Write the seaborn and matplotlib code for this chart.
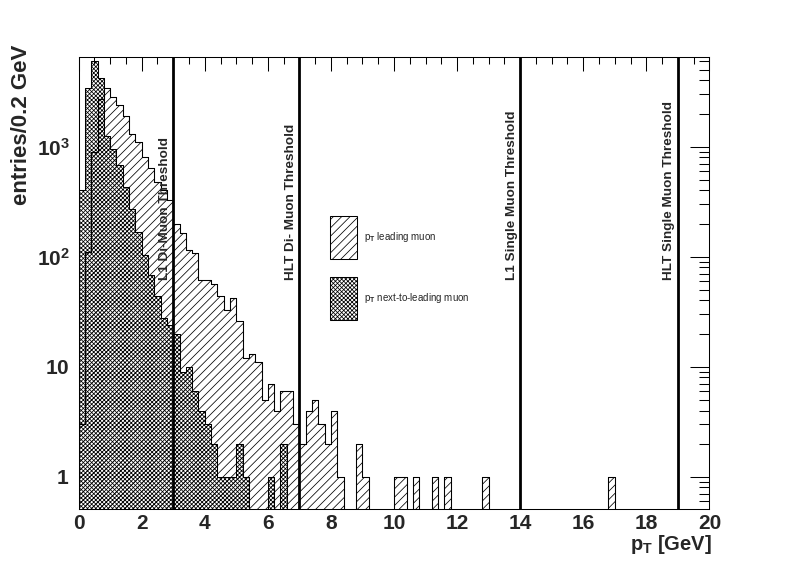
import numpy as np
import pandas as pd
import matplotlib
matplotlib.use("Agg")
import matplotlib.pyplot as plt
import seaborn as sns
from matplotlib.patches import Patch
from matplotlib.ticker import FixedLocator, FixedFormatter, MultipleLocator, NullFormatter

# ---------------- data ----------------
bin_edges = [round(0.2 * i, 1) for i in range(101)]

leading = [
    3, 111, 900, 2700, 3400, 2850, 2380, 1920, 1310, 1110,
    800, 640, 480, 400, 330, 198, 165, 115, 107, 62,
    62, 57, 44, 33, 42, 26, 12, 13, 11, 5,
    7, 4, 6, 6, 3, 2, 4, 5, 3, 2,
    4, 1, 0, 0, 2, 1, 0, 0, 0, 0,
    1, 1, 0, 1, 0, 0, 1, 0, 1, 0,
    0, 0, 0, 0, 1, 0, 0, 0, 0, 0,
    0, 0, 0, 0, 0, 0, 0, 0, 0, 0,
    0, 0, 0, 0, 1, 0, 0, 0, 0, 0,
    0, 0, 0, 0, 0, 0, 0, 0, 0, 0,
]
next_leading = [
    400, 3400, 6000, 4200, 1250, 950, 680, 430, 270, 167,
    104, 68, 44, 28, 24, 20, 9, 10, 6, 4,
    3, 2, 1, 1, 1, 2, 1, 0, 0, 0,
    1, 0, 2, 0, 0, 0, 0, 0, 0, 0,
    0, 0, 0, 0, 0, 0, 0, 0, 0, 0,
    0, 0, 0, 0, 0, 0, 0, 0, 0, 0,
    0, 0, 0, 0, 0, 0, 0, 0, 0, 0,
    0, 0, 0, 0, 0, 0, 0, 0, 0, 0,
    0, 0, 0, 0, 0, 0, 0, 0, 0, 0,
    0, 0, 0, 0, 0, 0, 0, 0, 0, 0,
]
thresholds = [3, 7, 14, 19]
threshold_labels = ["L1 Di-Muon Threshold", "HLT Di- Muon Threshold",
                    "L1 Single Muon Threshold", "HLT Single Muon Threshold"]
x_ticks = list(range(0, 21, 2))
y_ticks = [1, 10, 100, 1000]
y_tick_labels = [r"$\mathbf{1}$", r"$\mathbf{10}$", r"$\mathbf{10^{2}}$", r"$\mathbf{10^{3}}$"]
legend_labels = [r"p$_\mathrm{T}$ leading muon", r"p$_\mathrm{T}$ next-to-leading muon"]

# ---------------- style ----------------
sns.set_style("white")
plt.rcParams.update({
    "font.family": ["Liberation Sans", "DejaVu Sans"],
    "font.weight": "bold",
    "mathtext.fontset": "custom",
    "mathtext.rm": "Liberation Sans",
    "mathtext.bf": "Liberation Sans:bold",
    "mathtext.it": "Liberation Sans:italic",
    "hatch.linewidth": 0.55,
    "axes.linewidth": 0.75,
})

W, H = 788, 566
fig = plt.figure(figsize=(W / 100, H / 100), dpi=100)
left, right, top, bottom = 78.6, 709.4, 56.7, 509.0
ax = fig.add_axes([left / W, (H - bottom) / H, (right - left) / W, (bottom - top) / H])

centers = [e + 0.1 for e in bin_edges[:-1]]
df = pd.DataFrame({"pt": centers, "leading": leading, "next": next_leading})

HATCH_LEAD = "////"
HATCH_NEXT = "xxxxxxxx"

sns.histplot(data=df, x="pt", weights="leading", bins=bin_edges, element="step",
             fill=True, color="black", facecolor="none", edgecolor="black",
             hatch=HATCH_LEAD, linewidth=0.75, ax=ax)
sns.histplot(data=df, x="pt", weights="next", bins=bin_edges, element="step",
             fill=True, color="black", facecolor="none", edgecolor="black",
             hatch=HATCH_NEXT, linewidth=0.75, ax=ax)
sns.histplot(data=df, x="pt", weights="leading", bins=bin_edges, element="step",
             fill=False, color="black", linewidth=0.75, ax=ax)

ax.set_yscale("log")
ax.set_xlim(0, 20)
ax.set_ylim(0.509, 6577)

for t, lab in zip(thresholds, threshold_labels):
    ax.axvline(t, color="black", linewidth=2.0, zorder=5)
    ax.text(t - 0.27, 62, lab, rotation=90, ha="center", va="bottom",
            fontsize=9.7, fontweight="bold", zorder=6)

# ticks
ax.xaxis.set_major_locator(FixedLocator(x_ticks))
ax.xaxis.set_minor_locator(MultipleLocator(0.5))
ax.set_xticklabels([str(v) for v in x_ticks])
ax.yaxis.set_major_locator(FixedLocator(y_ticks))
ax.yaxis.set_major_formatter(FixedFormatter(y_tick_labels))
minor_y = [m * 10.0 ** e for e in range(-1, 4) for m in range(2, 10)]
ax.yaxis.set_minor_locator(FixedLocator(minor_y))
ax.yaxis.set_minor_formatter(NullFormatter())

ax.tick_params(axis="both", which="both", direction="in", top=True, right=True,
               width=0.75, color="black")
ax.tick_params(axis="x", which="major", length=10, pad=3.5, labelsize=15)
ax.tick_params(axis="x", which="minor", length=5)
ax.tick_params(axis="y", which="major", length=13.5, pad=6.5, labelsize=15)
ax.tick_params(axis="y", which="minor", length=7)
for lab in ax.get_xticklabels():
    lab.set_fontweight("bold")

for s in ax.spines.values():
    s.set_visible(True)
    s.set_color("black")
    s.set_linewidth(0.75)

ax.set_xlabel("")
ax.set_ylabel("")
fig.text(22 / W, 1 - 45 / H, "entries/0.2 GeV", rotation=90, ha="center", va="top",
         fontsize=16, fontweight="bold")
fig.text(711.5 / W, 1 - 550 / H, r"$\mathbf{p_{T}}$ [GeV]", ha="right", va="baseline",
         fontsize=14.5, fontweight="bold")

handles = [Patch(facecolor="none", edgecolor="black", hatch=HATCH_LEAD, linewidth=0.75),
           Patch(facecolor="none", edgecolor="black", hatch=HATCH_NEXT, linewidth=0.75)]
fs = 7
fpx = fs * 100 / 72
h_units = (43 / fpx - 0.245) / 0.65
leg = fig.legend(handles, legend_labels, loc="upper left",
                 bbox_to_anchor=(330 / W, 1 - 216 / H), bbox_transform=fig.transFigure,
                 frameon=False, borderpad=0, borderaxespad=0,
                 handlelength=27.3 / fpx, handleheight=h_units,
                 labelspacing=18.3 / fpx, handletextpad=7 / fpx,
                 prop={"size": fs, "weight": "normal"})

fig.savefig("out.png", dpi=100, facecolor="white")
